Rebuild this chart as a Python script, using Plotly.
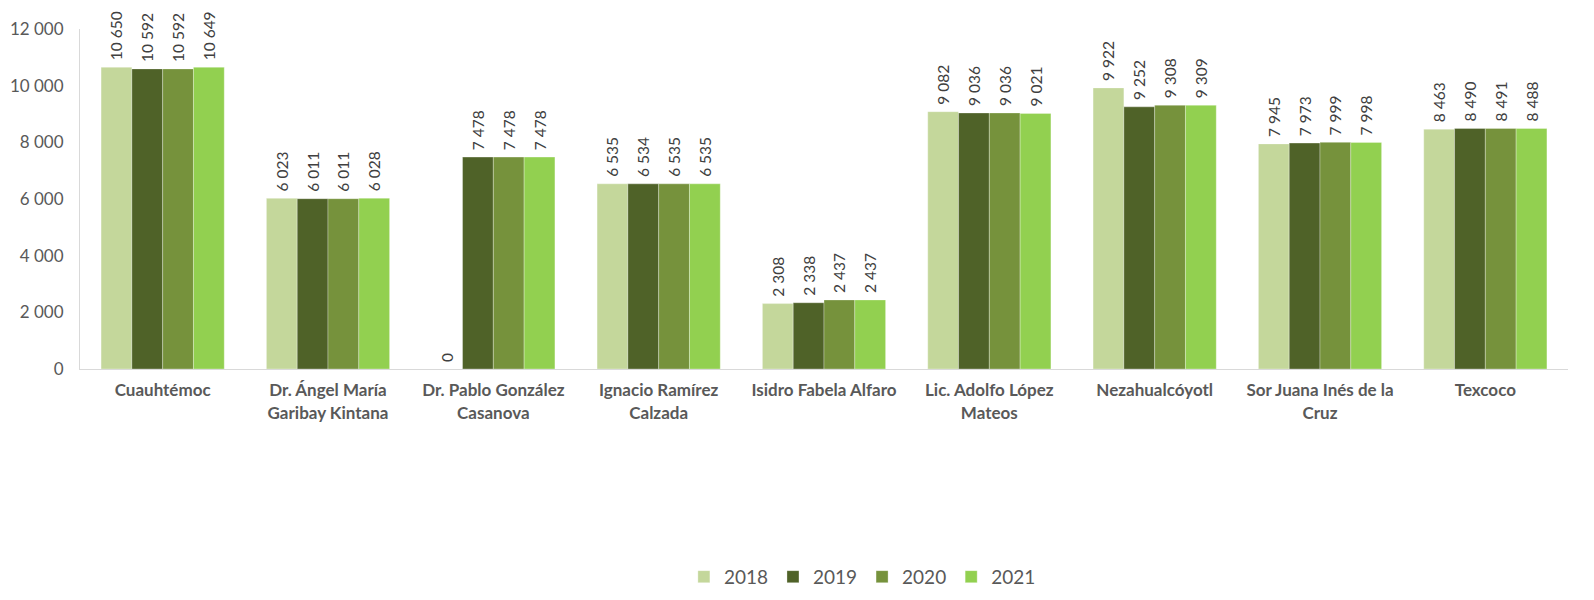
import plotly.graph_objects as go

categories = ["Cuauhtémoc", "Dr. Ángel María<br>Garibay Kintana", "Dr. Pablo González<br>Casanova",
              "Ignacio Ramírez<br>Calzada", "Isidro Fabela Alfaro", "Lic. Adolfo López<br>Mateos",
              "Nezahualcóyotl", "Sor Juana Inés de la<br>Cruz", "Texcoco"]
years = ["2018", "2019", "2020", "2021"]
v2018 = [10650, 6023, 0, 6535, 2308, 9082, 9922, 7945, 8463]
v2019 = [10592, 6011, 7478, 6534, 2338, 9036, 9252, 7973, 8490]
v2020 = [10592, 6011, 7478, 6535, 2437, 9036, 9308, 7999, 8491]
v2021 = [10649, 6028, 7478, 6535, 2437, 9021, 9309, 7998, 8488]
series = [v2018, v2019, v2020, v2021]
colors = ["#C4D79B", "#4F6228", "#76923C", "#92D050"]
y_ticks = [0, 2000, 4000, 6000, 8000, 10000, 12000]

FONT = "Lato"

fig = go.Figure()
for name, vals, col in zip(years, series, colors):
    fig.add_trace(go.Bar(
        x=categories, y=vals, name=name, marker_color=col,
        marker_line_width=0.5, marker_line_color="rgba(255,255,255,0.6)",
        texttemplate="\u00a0%{y:,}", textposition="outside", textangle=-90,
        constraintext="none",
        textfont=dict(size=15.5, color="#404040", family=FONT), cliponaxis=False,
    ))

fig.update_layout(
    barmode="group", bargap=0.255, bargroupgap=0,
    separators=". ",
    width=1594, height=600,
    margin=dict(l=72, r=34, t=21, b=239, autoexpand=False),
    plot_bgcolor="white", paper_bgcolor="white",
    font=dict(family=FONT, color="#595959"),
    legend=dict(orientation="h", xref="container", yref="container",
                x=0.536, xanchor="center", y=0.052, yanchor="middle",
                font=dict(size=19, color="#595959", family=FONT), traceorder="normal"),
)
fig.update_xaxes(showline=True, linecolor="#D9D9D9", linewidth=1, ticks="",
                 tickfont=dict(size=17, color="#595959", family=FONT, weight="bold"),
                 showgrid=False, automargin=False, ticklabelstandoff=6)
fig.update_yaxes(range=[0, 12000], tickvals=y_ticks, tickformat=",",
                 showline=True, linecolor="#D9D9D9", showgrid=False, zeroline=False,
                 tickfont=dict(size=17, color="#595959", family=FONT), ticks="", ticklen=0,
                 automargin=False, ticklabelstandoff=12)

fig.write_html("out.html")
